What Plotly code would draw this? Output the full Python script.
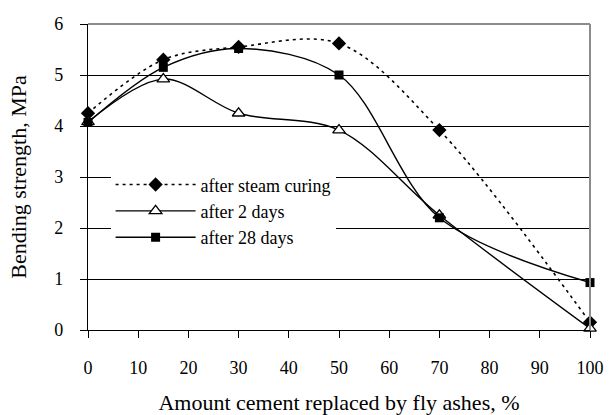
import plotly.graph_objects as go

# Replacement level of cement by fly ash, %
replacement = [0, 15, 30, 50, 70, 100]

# Bending strength, MPa
steam_curing = [4.25, 5.30, 5.55, 5.62, 3.92, 0.15]
after_2_days = [4.08, 4.92, 4.25, 3.92, 2.25, 0.03]
after_28_days = [4.07, 5.15, 5.52, 5.00, 2.20, 0.93]

x_ticks = [0, 10, 20, 30, 40, 50, 60, 70, 80, 90, 100]
y_ticks = [0, 1, 2, 3, 4, 5, 6]

FONT = "Liberation Serif, Times New Roman, Tinos, DejaVu Serif, serif"

fig = go.Figure()

fig.add_trace(go.Scatter(
    x=replacement, y=steam_curing, name="after steam curing",
    mode="lines+markers", line=dict(color="black", width=1.6, dash="3px,4px", shape="spline", smoothing=0.95),
    marker=dict(symbol="diamond", size=11, color="black"), cliponaxis=False,
))
fig.add_trace(go.Scatter(
    x=replacement, y=after_2_days, name="after 2 days",
    mode="lines+markers", line=dict(color="black", width=1.4, shape="spline", smoothing=0.95),
    marker=dict(symbol="triangle-up", size=11, color="white", line=dict(color="black", width=1.3)),
    cliponaxis=False,
))
fig.add_trace(go.Scatter(
    x=replacement, y=after_28_days, name="after 28 days",
    mode="lines+markers", line=dict(color="black", width=1.4, shape="spline", smoothing=0.95),
    marker=dict(symbol="square", size=9, color="black"), cliponaxis=False,
))

# grey frame on top and right of the plot area
fig.add_shape(type="line", xref="x domain", yref="y domain", x0=0, x1=1, y0=1, y1=1,
              line=dict(color="#8c8c8c", width=2), layer="above")
fig.add_shape(type="line", xref="x domain", yref="y domain", x0=1, x1=1, y0=0, y1=1,
              line=dict(color="#8c8c8c", width=2), layer="above")

fig.update_layout(
    width=609, height=415,
    margin=dict(l=88, r=19, t=24, b=85),
    paper_bgcolor="white", plot_bgcolor="white",
    font=dict(family=FONT, size=18, color="black"),
    showlegend=True,
    legend=dict(
        x=0.045, y=0.535, xanchor="left", yanchor="top",
        bgcolor="white", borderwidth=0,
        font=dict(family=FONT, size=18, color="black"),
        tracegroupgap=0, itemsizing="trace", itemwidth=80,
    ),
    xaxis=dict(
        range=[0, 100], tickvals=x_ticks, ticks="outside", ticklen=7, tickcolor="black",
        showline=True, linecolor="black", linewidth=1.2, showgrid=False, zeroline=False,
        ticklabelstandoff=14, automargin=False,
        title=dict(text="Amount cement replaced by fly ashes, %", standoff=21),
        tickfont=dict(family=FONT, size=18),
    ),
    yaxis=dict(
        range=[0, 6], tickvals=y_ticks, ticks="outside", ticklen=7, tickcolor="black",
        showline=True, linecolor="black", linewidth=1.2, showgrid=True, gridcolor="black",
        gridwidth=1, zeroline=False, ticklabelstandoff=13, automargin=False,
        title=dict(text="Bending strength, MPa", standoff=21),
        tickfont=dict(family=FONT, size=18),
    ),
)

fig.write_html("out.html")
